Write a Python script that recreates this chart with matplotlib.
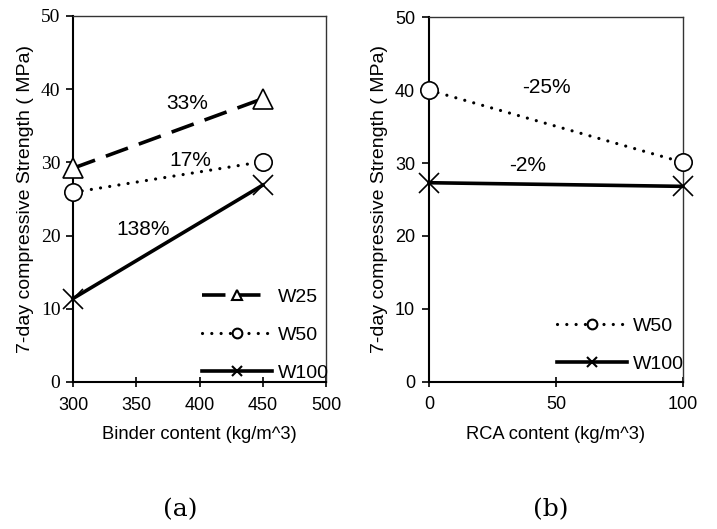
import matplotlib
matplotlib.use("Agg")
import matplotlib.pyplot as plt
from matplotlib.lines import Line2D

plt.rcParams['font.family'] = ['Liberation Sans', 'DejaVu Sans']
plt.rcParams['font.size'] = 13

# panel (a): binder content
binder = [300, 450]
w25_a = [29.2, 38.7]
w50_a = [25.9, 30.1]
w100_a = [11.4, 26.9]
pct_a = ["33%", "17%", "138%"]
pct_a_pos = [(390, 38.0), (392.7, 30.2), (355.6, 20.8)]

# panel (b): RCA content
rca = [0, 100]
w50_b = [40.0, 30.1]
w100_b = [27.3, 26.8]
pct_b = ["-25%", "-2%"]
pct_b_pos = [(46.3, 40.3), (38.8, 29.7)]

styles = {
    'W25': dict(ls=(0, (6.5, 3.2)), lw=2.6, marker='^', ms=14),
    'W50': dict(ls=(0, (0.01, 2.9)), lw=2.3, marker='o', ms=12.5, dash_capstyle='round'),
    'W100': dict(ls='-', lw=2.6, marker='x', ms=14),
}
leg_ms = {'W25': 6.5, 'W50': 7, 'W100': 7}


def draw(ax, x, series):
    for name, y in series:
        st = styles[name]
        ax.plot(x, y, color='black', linestyle=st['ls'], lw=st['lw'], marker=st['marker'],
                ms=st['ms'], mfc='white', mec='black', mew=1.2,
                dash_capstyle=st.get('dash_capstyle', 'butt'), clip_on=False, zorder=3)


def make_legend(ax, names, anchor):
    handles = []
    for name in names:
        st = styles[name]
        handles.append(Line2D([0], [0], color='black', linestyle=st['ls'], lw=st['lw'],
                              marker=st['marker'], ms=leg_ms[name], mfc='white', mec='black',
                              mew=1.5, dash_capstyle=st.get('dash_capstyle', 'butt')))
    ax.legend(handles, names, loc='lower left', bbox_to_anchor=anchor, frameon=False,
              numpoints=1, handlelength=3.6, handletextpad=0.3, labelspacing=1.05,
              borderpad=0, borderaxespad=0, fontsize=14)


def style_axes(ax, ypad):
    for s in ['left', 'bottom']:
        ax.spines[s].set_linewidth(1.5)
    for s in ['top', 'right']:
        ax.spines[s].set_linewidth(1.0)
        ax.spines[s].set_color('#333333')
    ax.tick_params(axis='x', direction='inout', length=7, width=1.2, pad=7)
    ax.tick_params(axis='y', direction='out', length=5, width=1.2, pad=ypad)
    ax.set_ylim(0, 50)
    ax.set_yticks([0, 10, 20, 30, 40, 50])


fig = plt.figure(figsize=(7.17, 5.29), dpi=100)
ax1 = fig.add_axes([0.1018, 0.2779, 0.3529, 0.6919])
ax2 = fig.add_axes([0.5983, 0.2784, 0.3540, 0.6890])

# (a)
draw(ax1, binder, [('W25', w25_a), ('W50', w50_a), ('W100', w100_a)])
style_axes(ax1, 4)
ax1.set_xlim(300, 500)
ax1.set_xticks([300, 350, 400, 450, 500])
for lab in ax1.get_yticklabels():
    lab.set_fontfamily('Liberation Serif')
    lab.set_fontsize(14)
ax1.set_xlabel("Binder content (kg/m^3)", labelpad=9, fontsize=13.2)
ax1.set_ylabel("7-day compressive Strength ( MPa)", labelpad=5, fontsize=14)
for t, (px, py) in zip(pct_a, pct_a_pos):
    ax1.text(px, py, t, ha='center', va='center', fontsize=15)
make_legend(ax1, ['W25', 'W50', 'W100'], (0.51, 0.0))

# (b)
draw(ax2, rca, [('W50', w50_b), ('W100', w100_b)])
style_axes(ax2, 5)
ax2.set_xlim(0, 100)
ax2.set_xticks([0, 50, 100])
ax2.set_xlabel("RCA content (kg/m^3)", labelpad=9, fontsize=13.2)
ax2.set_ylabel("7-day compressive Strength ( MPa)", labelpad=5, fontsize=14)
for t, (px, py) in zip(pct_b, pct_b_pos):
    ax2.text(px, py, t, ha='center', va='center', fontsize=15)
make_legend(ax2, ['W50', 'W100'], (0.504, 0.025))

fig.text(180 / 717, 1 - 510 / 529, "(a)", ha='center', va='center',
         fontsize=18, family='DejaVu Serif')
fig.text(551 / 717, 1 - 510 / 529, "(b)", ha='center', va='center',
         fontsize=18, family='DejaVu Serif')

fig.savefig("out.png", dpi=100)
